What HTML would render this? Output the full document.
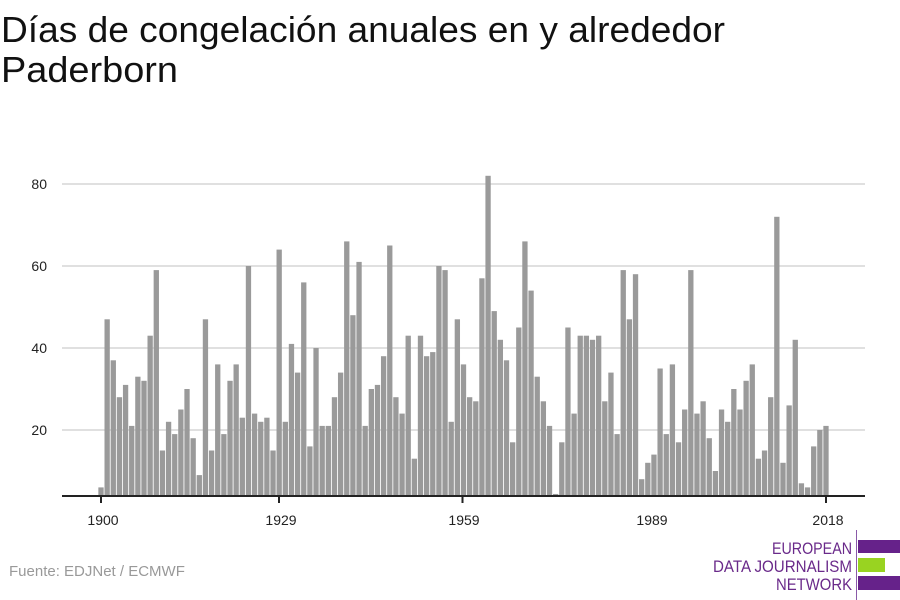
<!DOCTYPE html>
<html><head><meta charset="utf-8"><style>
html,body{margin:0;padding:0;background:#fff;}
svg{display:block;font-family:"Liberation Sans",sans-serif;}
</style></head><body>
<svg width="900" height="600" viewBox="0 0 900 600" xmlns="http://www.w3.org/2000/svg">
<text x="1" y="42" font-size="36" fill="#111" textLength="724" lengthAdjust="spacingAndGlyphs">Días de congelación anuales en y alrededor</text>
<text x="1" y="82" font-size="36" fill="#111" textLength="177" lengthAdjust="spacingAndGlyphs">Paderborn</text>
<g stroke="#e0e0e0" stroke-width="2">
<line x1="62" x2="865" y1="184" y2="184"/>
<line x1="62" x2="865" y1="266" y2="266"/>
<line x1="62" x2="865" y1="348" y2="348"/>
<line x1="62" x2="865" y1="430" y2="430"/>
</g>
<g font-size="14" fill="#222" text-anchor="end">
<text x="47" y="189">80</text>
<text x="47" y="271">60</text>
<text x="47" y="353">40</text>
<text x="47" y="435">20</text>
</g>
<g fill="#9a9a9a" transform="translate(98.35,512) scale(6.144,-4.1)">
<rect x="0" y="3.9" width="0.863" height="2.1"/>
<rect x="1" y="3.9" width="0.863" height="43.1"/>
<rect x="2" y="3.9" width="0.863" height="33.1"/>
<rect x="3" y="3.9" width="0.863" height="24.1"/>
<rect x="4" y="3.9" width="0.863" height="27.1"/>
<rect x="5" y="3.9" width="0.863" height="17.1"/>
<rect x="6" y="3.9" width="0.863" height="29.1"/>
<rect x="7" y="3.9" width="0.863" height="28.1"/>
<rect x="8" y="3.9" width="0.863" height="39.1"/>
<rect x="9" y="3.9" width="0.863" height="55.1"/>
<rect x="10" y="3.9" width="0.863" height="11.1"/>
<rect x="11" y="3.9" width="0.863" height="18.1"/>
<rect x="12" y="3.9" width="0.863" height="15.1"/>
<rect x="13" y="3.9" width="0.863" height="21.1"/>
<rect x="14" y="3.9" width="0.863" height="26.1"/>
<rect x="15" y="3.9" width="0.863" height="14.1"/>
<rect x="16" y="3.9" width="0.863" height="5.1"/>
<rect x="17" y="3.9" width="0.863" height="43.1"/>
<rect x="18" y="3.9" width="0.863" height="11.1"/>
<rect x="19" y="3.9" width="0.863" height="32.1"/>
<rect x="20" y="3.9" width="0.863" height="15.1"/>
<rect x="21" y="3.9" width="0.863" height="28.1"/>
<rect x="22" y="3.9" width="0.863" height="32.1"/>
<rect x="23" y="3.9" width="0.863" height="19.1"/>
<rect x="24" y="3.9" width="0.863" height="56.1"/>
<rect x="25" y="3.9" width="0.863" height="20.1"/>
<rect x="26" y="3.9" width="0.863" height="18.1"/>
<rect x="27" y="3.9" width="0.863" height="19.1"/>
<rect x="28" y="3.9" width="0.863" height="11.1"/>
<rect x="29" y="3.9" width="0.863" height="60.1"/>
<rect x="30" y="3.9" width="0.863" height="18.1"/>
<rect x="31" y="3.9" width="0.863" height="37.1"/>
<rect x="32" y="3.9" width="0.863" height="30.1"/>
<rect x="33" y="3.9" width="0.863" height="52.1"/>
<rect x="34" y="3.9" width="0.863" height="12.1"/>
<rect x="35" y="3.9" width="0.863" height="36.1"/>
<rect x="36" y="3.9" width="0.863" height="17.1"/>
<rect x="37" y="3.9" width="0.863" height="17.1"/>
<rect x="38" y="3.9" width="0.863" height="24.1"/>
<rect x="39" y="3.9" width="0.863" height="30.1"/>
<rect x="40" y="3.9" width="0.863" height="62.1"/>
<rect x="41" y="3.9" width="0.863" height="44.1"/>
<rect x="42" y="3.9" width="0.863" height="57.1"/>
<rect x="43" y="3.9" width="0.863" height="17.1"/>
<rect x="44" y="3.9" width="0.863" height="26.1"/>
<rect x="45" y="3.9" width="0.863" height="27.1"/>
<rect x="46" y="3.9" width="0.863" height="34.1"/>
<rect x="47" y="3.9" width="0.863" height="61.1"/>
<rect x="48" y="3.9" width="0.863" height="24.1"/>
<rect x="49" y="3.9" width="0.863" height="20.1"/>
<rect x="50" y="3.9" width="0.863" height="39.1"/>
<rect x="51" y="3.9" width="0.863" height="9.1"/>
<rect x="52" y="3.9" width="0.863" height="39.1"/>
<rect x="53" y="3.9" width="0.863" height="34.1"/>
<rect x="54" y="3.9" width="0.863" height="35.1"/>
<rect x="55" y="3.9" width="0.863" height="56.1"/>
<rect x="56" y="3.9" width="0.863" height="55.1"/>
<rect x="57" y="3.9" width="0.863" height="18.1"/>
<rect x="58" y="3.9" width="0.863" height="43.1"/>
<rect x="59" y="3.9" width="0.863" height="32.1"/>
<rect x="60" y="3.9" width="0.863" height="24.1"/>
<rect x="61" y="3.9" width="0.863" height="23.1"/>
<rect x="62" y="3.9" width="0.863" height="53.1"/>
<rect x="63" y="3.9" width="0.863" height="78.1"/>
<rect x="64" y="3.9" width="0.863" height="45.1"/>
<rect x="65" y="3.9" width="0.863" height="38.1"/>
<rect x="66" y="3.9" width="0.863" height="33.1"/>
<rect x="67" y="3.9" width="0.863" height="13.1"/>
<rect x="68" y="3.9" width="0.863" height="41.1"/>
<rect x="69" y="3.9" width="0.863" height="62.1"/>
<rect x="70" y="3.9" width="0.863" height="50.1"/>
<rect x="71" y="3.9" width="0.863" height="29.1"/>
<rect x="72" y="3.9" width="0.863" height="23.1"/>
<rect x="73" y="3.9" width="0.863" height="17.1"/>
<rect x="74" y="3.9" width="0.863" height="0.5"/>
<rect x="75" y="3.9" width="0.863" height="13.1"/>
<rect x="76" y="3.9" width="0.863" height="41.1"/>
<rect x="77" y="3.9" width="0.863" height="20.1"/>
<rect x="78" y="3.9" width="0.863" height="39.1"/>
<rect x="79" y="3.9" width="0.863" height="39.1"/>
<rect x="80" y="3.9" width="0.863" height="38.1"/>
<rect x="81" y="3.9" width="0.863" height="39.1"/>
<rect x="82" y="3.9" width="0.863" height="23.1"/>
<rect x="83" y="3.9" width="0.863" height="30.1"/>
<rect x="84" y="3.9" width="0.863" height="15.1"/>
<rect x="85" y="3.9" width="0.863" height="55.1"/>
<rect x="86" y="3.9" width="0.863" height="43.1"/>
<rect x="87" y="3.9" width="0.863" height="54.1"/>
<rect x="88" y="3.9" width="0.863" height="4.1"/>
<rect x="89" y="3.9" width="0.863" height="8.1"/>
<rect x="90" y="3.9" width="0.863" height="10.1"/>
<rect x="91" y="3.9" width="0.863" height="31.1"/>
<rect x="92" y="3.9" width="0.863" height="15.1"/>
<rect x="93" y="3.9" width="0.863" height="32.1"/>
<rect x="94" y="3.9" width="0.863" height="13.1"/>
<rect x="95" y="3.9" width="0.863" height="21.1"/>
<rect x="96" y="3.9" width="0.863" height="55.1"/>
<rect x="97" y="3.9" width="0.863" height="20.1"/>
<rect x="98" y="3.9" width="0.863" height="23.1"/>
<rect x="99" y="3.9" width="0.863" height="14.1"/>
<rect x="100" y="3.9" width="0.863" height="6.1"/>
<rect x="101" y="3.9" width="0.863" height="21.1"/>
<rect x="102" y="3.9" width="0.863" height="18.1"/>
<rect x="103" y="3.9" width="0.863" height="26.1"/>
<rect x="104" y="3.9" width="0.863" height="21.1"/>
<rect x="105" y="3.9" width="0.863" height="28.1"/>
<rect x="106" y="3.9" width="0.863" height="32.1"/>
<rect x="107" y="3.9" width="0.863" height="9.1"/>
<rect x="108" y="3.9" width="0.863" height="11.1"/>
<rect x="109" y="3.9" width="0.863" height="24.1"/>
<rect x="110" y="3.9" width="0.863" height="68.1"/>
<rect x="111" y="3.9" width="0.863" height="8.1"/>
<rect x="112" y="3.9" width="0.863" height="22.1"/>
<rect x="113" y="3.9" width="0.863" height="38.1"/>
<rect x="114" y="3.9" width="0.863" height="3.1"/>
<rect x="115" y="3.9" width="0.863" height="2.1"/>
<rect x="116" y="3.9" width="0.863" height="12.1"/>
<rect x="117" y="3.9" width="0.863" height="16.1"/>
<rect x="118" y="3.9" width="0.863" height="17.1"/>
</g>
<line x1="62" x2="865" y1="496" y2="496" stroke="#222" stroke-width="2"/>
<g stroke="#222" stroke-width="2">
<line x1="101" x2="101" y1="496" y2="503"/>
<line x1="279" x2="279" y1="496" y2="503"/>
<line x1="462.5" x2="462.5" y1="496" y2="503"/>
<line x1="826" x2="826" y1="496" y2="503"/>
</g>
<g font-size="14" fill="#222" text-anchor="middle">
<text x="103" y="525">1900</text>
<text x="281" y="525">1929</text>
<text x="464" y="525">1959</text>
<text x="652" y="525">1989</text>
<text x="828" y="525">2018</text>
</g>
<text x="9" y="576" font-size="15" fill="#999">Fuente: EDJNet / ECMWF</text>
<g font-size="17" fill="#6a2a8a" text-anchor="end">
<text x="852" y="554" textLength="80" lengthAdjust="spacingAndGlyphs">EUROPEAN</text>
<text x="852" y="572" textLength="139" lengthAdjust="spacingAndGlyphs">DATA JOURNALISM</text>
<text x="852" y="590" textLength="76" lengthAdjust="spacingAndGlyphs">NETWORK</text>
</g>
<line x1="856.5" x2="856.5" y1="530" y2="600" stroke="#8a5aa8" stroke-width="1"/>
<rect x="858" y="540" width="42" height="13" fill="#66228a"/>
<rect x="858" y="558" width="27" height="14" fill="#99d321"/>
<rect x="858" y="576" width="42" height="14" fill="#66228a"/>
</svg>
</body></html>
